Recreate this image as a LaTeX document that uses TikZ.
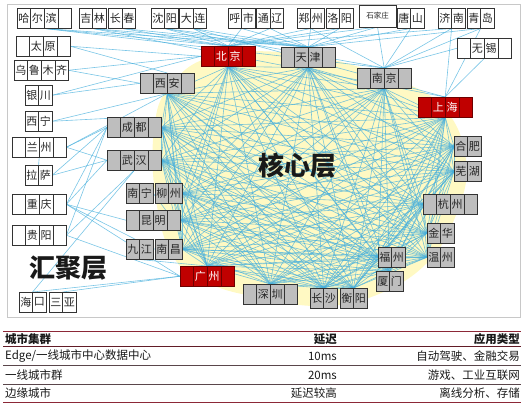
\documentclass[tikz,border=0pt]{standalone}
\usepackage{fontspec}
\setmainfont{Noto Sans CJK SC}
\pgfdeclarelayer{ylayer}
\pgfdeclarelayer{llayer}
\pgfsetlayers{ylayer,llayer,main}
\definecolor{linkblue}{RGB}{70,175,220}
\definecolor{boxgray}{RGB}{190,190,190}
\definecolor{boxred}{RGB}{192,0,0}
\definecolor{redline}{RGB}{110,0,0}
\definecolor{coreyellow}{RGB}{255,249,195}
\definecolor{framegray}{RGB}{200,200,200}
\definecolor{tabred}{RGB}{140,40,55}
\definecolor{tabdark}{RGB}{90,70,75}
\def\cw{13.6}
\newcommand\citybox[6]{%
  \node[anchor=north west, minimum width=#5*\cw, minimum height=20.5, inner sep=0pt, outer sep=0pt] (#1) at (#2,#3) {};
  \foreach \c [count=\i] in {#6} {
    \node[#4, anchor=north west] (#1-\i) at ({#2+(\i-1)*\cw},#3) {\c};
  }%
}
\tikzset{
  cell/.style={draw=black!80, line width=0.6pt, minimum width=\cw, minimum height=20.5, inner sep=0pt, outer sep=0pt, font=\fontsize{11}{11}\selectfont, text=black!85},
  wcell/.style={cell, fill=white},
  gcell/.style={cell, fill=boxgray},
  rcell/.style={cell, fill=boxred, draw=redline, text=white},
  link/.style={draw=linkblue, line width=0.6pt, opacity=0.72},
  title/.style={font=\bfseries\fontsize{26}{26}\selectfont, text=black!90},
  tabtxt/.style={font=\fontsize{11.5}{13}\selectfont, inner sep=0pt, text=black!90},
  tabhead/.style={tabtxt, font=\bfseries\fontsize{11.5}{13}\selectfont}
}
\begin{document}
\begin{tikzpicture}[x=1pt, y=-1pt]
\useasboundingbox (0,0) rectangle (527,410);
% frame and core region
\begin{pgfonlayer}{ylayer}
\draw[framegray, line width=0.8pt] (7,4) rectangle (520,317);
\fill[coreyellow] plot[smooth cycle, tension=0.7] coordinates {(215,56) (300,54) (385,76) (442,106) (466,160) (456,215) (426,264) (374,296) (320,306) (262,298) (210,284) (174,258) (156,200) (154,130) (170,86)};
\end{pgfonlayer}
% top row
\citybox{harbin}{17}{8}{wcell}{4}{哈,尔,滨,{}}
\citybox{jilin}{79}{8}{wcell}{2}{吉,林}
\citybox{changchun}{108.5}{8}{wcell}{2}{长,春}
\citybox{shenyang}{151}{8}{wcell}{2}{沈,阳}
\citybox{dalian}{179.5}{8}{wcell}{2}{大,连}
\citybox{huhe}{228}{8}{wcell}{2}{呼,市}
\citybox{tongliao}{256.5}{8}{wcell}{2}{通,辽}
\citybox{zhengzhou}{297}{8}{wcell}{2}{郑,州}
\citybox{luoyang}{326}{8}{wcell}{2}{洛,阳}
\node[wcell, minimum width=37, minimum height=22, font=\fontsize{7.5}{8}\selectfont, anchor=north west] (shijiazhuang) at (359,5) {石家庄};
\citybox{tangshan}{397}{8}{wcell}{2}{唐,山}
\citybox{jinan}{438}{8}{wcell}{2}{济,南}
\citybox{qingdao}{467}{8}{wcell}{2}{青,岛}
\citybox{wuxi}{457}{38}{wcell}{4}{{},无,锡,{}}
% left column
\citybox{taiyuan}{16}{36}{wcell}{4}{{},太,原,{}}
\citybox{urumqi}{14}{60}{wcell}{4}{乌,鲁,木,齐}
\citybox{yinchuan}{25}{85}{wcell}{2}{银,川}
\citybox{xining}{25}{111}{wcell}{2}{西,宁}
\citybox{lanzhou}{12}{137}{wcell}{4}{{},兰,州,{}}
\citybox{lasa}{25}{165}{wcell}{2}{拉,萨}
\citybox{chongqing}{12}{194}{wcell}{4}{{},重,庆,{}}
\citybox{guiyang}{12}{225}{wcell}{4}{{},贵,阳,{}}
\citybox{haikou}{19}{292}{wcell}{2}{海,口}
\citybox{sanya}{49}{292}{wcell}{2}{三,亚}
% core
\citybox{beijing}{201}{46}{rcell}{4}{{},北,京,{}}
\citybox{tianjin}{281}{47}{gcell}{4}{{},天,津,{}}
\citybox{nanjing}{357}{68}{gcell}{4}{{},南,京,{}}
\citybox{shanghai}{418}{97}{rcell}{4}{{},上,海,{}}
\citybox{xian}{140}{73}{gcell}{4}{{},西,安,{}}
\citybox{chengdu}{107}{117}{gcell}{4}{{},成,都,{}}
\citybox{wuhan}{107}{150}{gcell}{4}{{},武,汉,{}}
\citybox{nanning}{126}{183}{gcell}{2}{南,宁}
\citybox{liuzhou}{155}{183}{gcell}{2}{柳,州}
\citybox{kunming}{126}{210}{gcell}{4}{{},昆,明,{}}
\citybox{jiujiang}{126}{239}{gcell}{2}{九,江}
\citybox{nanchang}{155}{239}{gcell}{2}{南,昌}
\citybox{guangzhou}{180}{266}{rcell}{4}{{},广,州,{}}
\citybox{shenzhen}{243}{284}{gcell}{4}{{},深,圳,{}}
\citybox{changsha}{310}{288}{gcell}{2}{长,沙}
\citybox{hengyang}{340}{288}{gcell}{2}{衡,阳}
\citybox{fuzhou}{378}{247}{gcell}{2}{福,州}
\citybox{xiamen}{376}{271}{gcell}{2}{厦,门}
\citybox{jinhua}{427}{223}{gcell}{2}{金,华}
\citybox{wenzhou}{427}{247}{gcell}{2}{温,州}
\citybox{hangzhou}{423}{194}{gcell}{4}{{},杭,州,{}}
\citybox{hefei}{454}{136}{gcell}{2}{合,肥}
\citybox{wuhu}{454}{161}{gcell}{2}{芜,湖}
% titles
\node[title] (coretitle) at (297,166) {核心层};
\node[title] (aggtitle) at (68,268) {汇聚层};
% links
\def\corelist{beijing/south, tianjin/south, nanjing/south, shanghai/south, xian/south, chengdu/east, wuhan/east, liuzhou/east, kunming/east, nanchang/east, guangzhou/north, shenzhen/north, changsha/north, hengyang/north, fuzhou/west, xiamen/north, hangzhou/west, hefei/west, wuhu/west, jinhua/west, wenzhou/west}
\begin{pgfonlayer}{llayer}
\foreach \a/\pa [count=\i] in \corelist {
  \foreach \b/\pb [count=\j] in \corelist {
    \ifnum\j>\i \draw[link] (\a.\pa) -- (\b.\pb); \fi
  }
}
\foreach \a/\b in {harbin.south/beijing.north, harbin.south/tianjin.north, harbin.south/nanjing.north,
  jilin.south/beijing.north, jilin.south/tianjin.north, jilin.south/shanghai.north,
  changchun.south/beijing.north, changchun.south/tianjin.north,
  shenyang.south/beijing.north, shenyang.south/tianjin.north, shenyang.south/nanjing.north,
  dalian.south/beijing.north, dalian.south/tianjin.north, dalian.south/shanghai.north,
  huhe.south/beijing.north, huhe.south/tianjin.north,
  tongliao.south/beijing.north, tongliao.south/tianjin.north,
  zhengzhou.south/beijing.north, zhengzhou.south/tianjin.north, zhengzhou.south/nanjing.north,
  luoyang.south/beijing.north, luoyang.south/tianjin.north,
  shijiazhuang.south/beijing.north, shijiazhuang.south/tianjin.north, shijiazhuang.south/nanjing.north,
  tangshan.south/tianjin.north, tangshan.south/nanjing.north,
  jinan.south/shanghai.north, jinan.south/nanjing.north, jinan.south/beijing.north,
  qingdao.south/shanghai.north, qingdao.south/nanjing.north, qingdao.south/tianjin.north,
  wuxi.south/shanghai.north, wuxi.west/nanjing.north,
  taiyuan.east/beijing.west, taiyuan.east/xian.north,
  urumqi.east/xian.west, urumqi.east/beijing.west,
  yinchuan.east/xian.west, yinchuan.east/beijing.west,
  xining.east/xian.south, xining.east/chengdu.north,
  lanzhou.east/xian.south, lanzhou.east/chengdu.west, lanzhou.east/wuhan.west,
  lanzhou.south/lasa.north, lasa.east/chengdu.west, lasa.east/wuhan.west,
  chongqing.east/chengdu.west, chongqing.east/wuhan.west, chongqing.east/kunming.west,
  chongqing.east/guangzhou.west, chongqing.east/nanchang.west,
  guiyang.east/chengdu.west, guiyang.east/wuhan.south, guiyang.east/guangzhou.west,
  haikou.north/guangzhou.west, haikou.north/wuhan.south, sanya.north/guangzhou.west,
  nanning.east/guangzhou.north, jiujiang.south/guangzhou.north}
  \draw[link] (\a) -- (\b);
\end{pgfonlayer}
% table
\draw[tabred, line width=0.9pt] (3,331) -- (521,331);
\draw[tabred!70!black, line width=0.8pt] (3,346) -- (521,346);
\draw[tabdark, line width=0.7pt] (3,365) -- (521,365);
\draw[tabdark, line width=0.7pt] (3,384) -- (521,384);
\draw[tabred, line width=0.9pt] (3,402) -- (521,402);
\node[tabhead, anchor=west] (h1) at (5,339) {城市集群};
\node[tabhead, anchor=east] (h2) at (337,339) {延迟};
\node[tabhead, anchor=east] (h3) at (520,339) {应用类型};
\node[tabtxt, anchor=west] (r1a) at (5,356) {Edge/一线城市中心数据中心};
\node[tabtxt, anchor=east] (r1b) at (337,356) {10ms};
\node[tabtxt, anchor=east] (r1c) at (520,356) {自动驾驶、金融交易};
\node[tabtxt, anchor=west] (r2a) at (5,375) {一线城市群};
\node[tabtxt, anchor=east] (r2b) at (337,375) {20ms};
\node[tabtxt, anchor=east] (r2c) at (520,375) {游戏、工业互联网};
\node[tabtxt, anchor=west] (r3a) at (5,393) {边缘城市};
\node[tabtxt, anchor=east] (r3b) at (337,393) {延迟较高};
\node[tabtxt, anchor=east] (r3c) at (520,393) {离线分析、存储};
\end{tikzpicture}
\end{document}
